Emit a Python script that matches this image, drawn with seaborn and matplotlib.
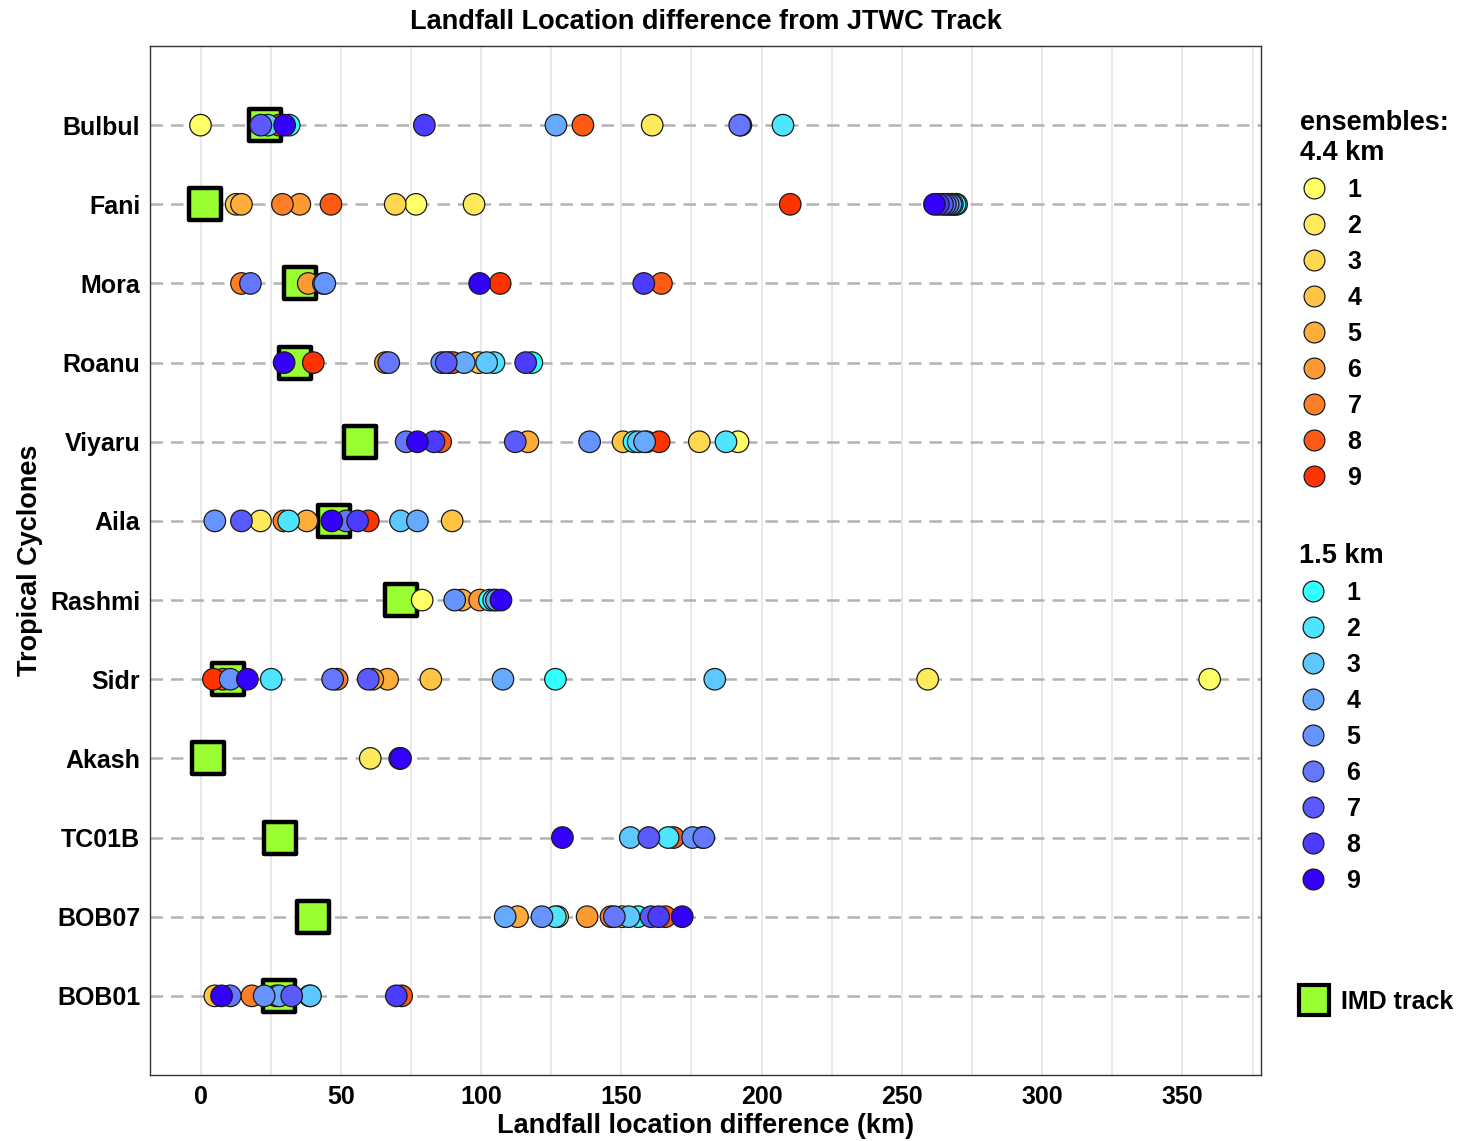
import numpy as np
import pandas as pd
import matplotlib
matplotlib.use("Agg")
import matplotlib.pyplot as plt
from matplotlib.lines import Line2D
import seaborn as sns

# Cyclones, top to bottom
cyclones = ["Bulbul", "Fani", "Mora", "Roanu", "Viyaru", "Aila",
            "Rashmi", "Sidr", "Akash", "TC01B", "BOB07", "BOB01"]

# IMD track landfall difference (km)
imd_km = [22.9, 1.7, 35.4, 33.7, 56.7, 47.5, 71.3, 9.8, 2.5, 28.4, 40.2, 28.1]

# Ensemble landfall differences (km): member -> value, 4.4 km runs
r44_bulbul = {1: 0.0, 2: 161.0, 8: 136.3, 9: 28.0}
r44_fani = {1: 76.8, 2: 97.5, 3: 69.4, 4: 12.7, 5: 14.6, 6: 35.4, 7: 29.2, 8: 46.5, 9: 210.2}
r44_mora = {6: 38.4, 7: 14.6, 8: 164.3, 9: 106.8}
r44_roanu = {4: 99.2, 6: 65.9, 7: 88.6, 8: 90.0, 9: 40.2}
r44_viyaru = {1: 191.6, 2: 159.0, 3: 177.8, 4: 150.6, 5: 116.7, 8: 85.6, 9: 163.5}
r44_aila = {2: 21.4, 4: 89.7, 5: 37.9, 7: 29.7, 9: 59.8}
r44_rashmi = {1: 79.0, 5: 93.2, 6: 99.5}
r44_sidr = {1: 359.7, 2: 259.2, 4: 82.1, 5: 66.7, 6: 61.4, 7: 48.7, 8: 8.0, 9: 4.6}
r44_akash = {2: 60.5}
r44_tc01b = {8: 168.6}
r44_bob07 = {2: 127.3, 3: 150.3, 5: 113.0, 6: 137.8, 7: 146.3, 8: 165.7}
r44_bob01 = {4: 5.1, 7: 18.3, 8: 71.7, 9: 27.0}

# 1.5 km runs
r15_bulbul = {1: 31.6, 2: 207.6, 3: 24.0, 4: 126.7, 5: 192.6, 6: 192.2, 7: 21.5, 8: 79.8, 9: 30.0}
r15_fani = {1: 269.5, 2: 269.0, 3: 268.0, 4: 267.5, 5: 266.5, 6: 265.5, 7: 264.5, 8: 263.0, 9: 261.6}
r15_mora = {4: 43.8, 5: 44.3, 6: 17.8, 8: 158.0, 9: 99.5}
r15_roanu = {1: 118.1, 2: 104.6, 3: 102.0, 4: 94.0, 5: 86.0, 6: 67.1, 7: 87.6, 8: 115.9, 9: 29.8}
r15_viyaru = {1: 154.5, 2: 187.3, 3: 156.0, 4: 158.3, 5: 138.7, 6: 73.3, 7: 112.2, 8: 83.2, 9: 77.3}
r15_aila = {2: 31.4, 3: 71.3, 4: 77.3, 5: 5.1, 6: 51.9, 7: 14.6, 8: 56.0, 9: 46.8}
r15_rashmi = {1: 103.0, 3: 104.5, 4: 105.5, 5: 90.6, 9: 107.1}
r15_sidr = {1: 126.5, 2: 25.2, 3: 183.3, 4: 107.8, 5: 10.6, 6: 47.1, 7: 59.8, 9: 16.7}
r15_akash = {8: 71.0, 9: 71.3}
r15_tc01b = {2: 166.7, 3: 153.2, 4: 179.0, 5: 175.4, 6: 179.4, 7: 159.8, 9: 129.0}
r15_bob07 = {1: 155.9, 2: 126.5, 3: 152.7, 4: 108.6, 5: 121.7, 6: 147.5, 7: 160.6, 8: 163.3, 9: 171.7}
r15_bob01 = {2: 38.9, 3: 39.2, 4: 28.1, 5: 22.7, 6: 10.6, 7: 32.5, 8: 69.8, 9: 7.5}

runs_44 = [r44_bulbul, r44_fani, r44_mora, r44_roanu, r44_viyaru, r44_aila,
           r44_rashmi, r44_sidr, r44_akash, r44_tc01b, r44_bob07, r44_bob01]
runs_15 = [r15_bulbul, r15_fani, r15_mora, r15_roanu, r15_viyaru, r15_aila,
           r15_rashmi, r15_sidr, r15_akash, r15_tc01b, r15_bob07, r15_bob01]

members = list(range(1, 10))
colors_44 = ["#FFFF66", "#FFEA5C", "#FFD850", "#FFC444", "#FFAD3A",
             "#FF9A33", "#FF7F26", "#FF5A14", "#FF3300"]
colors_15 = ["#33FFFF", "#4DE5FF", "#5CC8FF", "#66AAFF", "#6694FF",
             "#6677FF", "#5A5AFF", "#4B3CFF", "#3300FF"]

# Long table, ordered so 4.4 km members are drawn first, then 1.5 km members
rows = []
for res, runs in (("4.4", runs_44), ("1.5", runs_15)):
    for m in members:
        for cyc, run in zip(cyclones, runs):
            if m in run:
                rows.append({"cyclone": cyc, "km": run[m], "group": f"{res}-{m}"})
df = pd.DataFrame(rows)
hue_order = [f"4.4-{m}" for m in members] + [f"1.5-{m}" for m in members]
palette = dict(zip(hue_order, colors_44 + colors_15))
imd_df = pd.DataFrame({"cyclone": cyclones, "km": imd_km})

sns.set_theme(style="white")
plt.rcParams["font.family"] = ["Liberation Sans", "DejaVu Sans"]
plt.rcParams["text.color"] = "black"
plt.rcParams["axes.labelcolor"] = "black"
plt.rcParams["xtick.color"] = "#333333"
plt.rcParams["ytick.color"] = "#333333"

fig = plt.figure(figsize=(14.84, 11.41), dpi=100)
ax = fig.add_axes([150 / 1484, 1 - 1075 / 1141, 1111 / 1484, 1029 / 1141])

# vertical grid every 25 km
for gx in np.arange(0, 376, 25):
    ax.axvline(gx, color="#E6E6E6", lw=1.3, zorder=0)
# dashed reference line for each cyclone
for i in range(len(cyclones)):
    ax.axhline(i, color="#B3B3B3", lw=1.8, ls=(0, (5, 3.2)), zorder=1)

sns.scatterplot(data=imd_df, x="km", y="cyclone", marker="s", s=540,
                color="#99FF33", edgecolor="black", linewidth=3.2,
                ax=ax, zorder=2, legend=False)
sns.scatterplot(data=df, x="km", y="cyclone", hue="group", hue_order=hue_order,
                palette=palette, s=240, edgecolor="#1A1A1A", linewidth=0.9,
                ax=ax, zorder=3, legend=False)

ax.set_xlim(-18, 378)
ax.set_ylim(len(cyclones), -1)
ax.set_xticks(np.arange(0, 351, 50))
ax.tick_params(axis="both", length=4, color="#333333", width=1, labelsize=18, pad=3)
for lab in ax.get_xticklabels() + ax.get_yticklabels():
    lab.set_fontweight("bold")
    lab.set_color("black")
for sp in ax.spines.values():
    sp.set_color("#333333")
    sp.set_linewidth(1)

ax.set_xlabel("Landfall location difference (km)", fontsize=19.5, fontweight="bold", labelpad=3)
ax.set_ylabel("Tropical Cyclones", fontsize=19.5, fontweight="bold", labelpad=5)
ax.set_title("Landfall Location difference from JTWC Track", fontsize=19.5,
             fontweight="bold", pad=12)

def circle(c):
    return Line2D([], [], marker="o", ls="", markersize=15, markerfacecolor=c,
                  markeredgecolor="#1A1A1A", markeredgewidth=0.9)

common = dict(frameon=False, fontsize=18, handletextpad=0.8, labelspacing=0.48,
              alignment="left", borderaxespad=0, handlelength=1.1)
leg1 = fig.legend([circle(c) for c in colors_44], [str(m) for m in members],
                  title="ensembles:\n4.4 km", loc="upper left",
                  bbox_to_anchor=(1290 / 1484, 1 - 100 / 1141), **common)
leg2 = fig.legend([circle(c) for c in colors_15], [str(m) for m in members],
                  title="1.5 km", loc="upper left",
                  bbox_to_anchor=(1289 / 1484, 1 - 533 / 1141), **common)
sq = Line2D([], [], marker="s", ls="", markersize=21, markerfacecolor="#99FF33",
            markeredgecolor="black", markeredgewidth=3)
leg3 = fig.legend([sq], ["IMD track"], loc="upper left", handletextpad=0.55,
                  bbox_to_anchor=(1290 / 1484, 1 - 980 / 1141),
                  **{k: v for k, v in common.items() if k != "handletextpad"})
for lg in (leg1, leg2, leg3):
    lg.get_title().set_fontweight("bold")
    lg.get_title().set_fontsize(19.5)
    for t in lg.get_texts():
        t.set_fontweight("bold")

fig.savefig("out.png", dpi=100)
